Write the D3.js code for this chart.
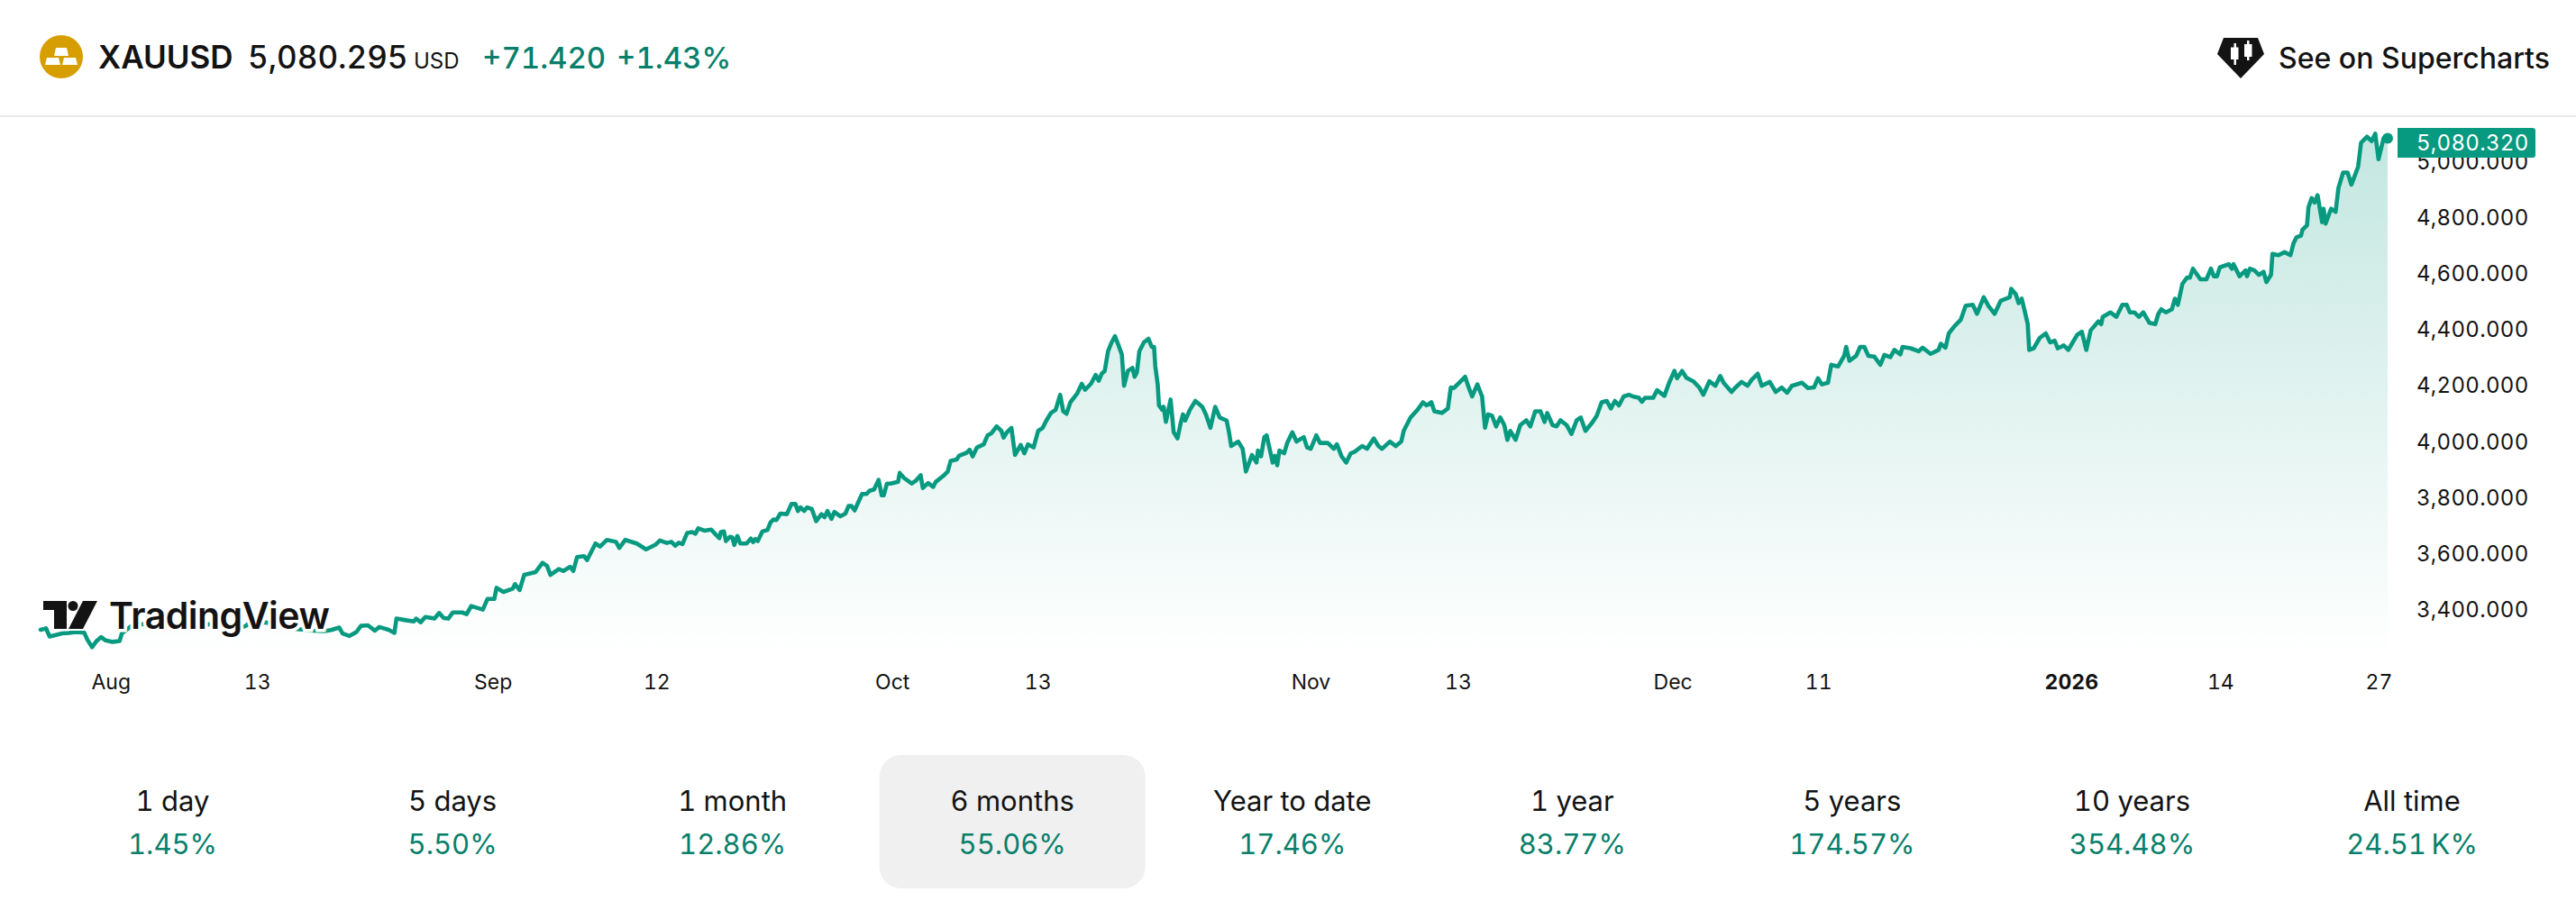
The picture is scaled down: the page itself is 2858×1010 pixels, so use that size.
<!DOCTYPE html>
<html>
<head>
<meta charset="utf-8">
<title>XAUUSD</title>
<script src="https://cdn.jsdelivr.net/npm/d3@7"></script>
<style>
  html, body { margin: 0; padding: 0; background: #fff; }
  svg { display: block; }
  text { font-family: Inter, "Noto Sans", sans-serif; font-variant-numeric: tabular-nums; }
</style>
</head>
<body>
<svg id="plot" width="2858" height="1010"></svg>
<script>
// turning points of the price line,
// position counted in trading sessions from the first point
var sessions = [
  0,.3,.5,.8,1.18,1.56,1.94,2.4,2.57,2.83,3.08,3.33,3.58,3.96,4.34,4.47,
  5,6,7,8,9,10,11,11.29,11.54,12,12.3,13,14,14.5,15,15.59,15.97,16.42,16.6,16.98,
  17.36,17.61,17.99,18.37,18.62,19.13,19.45,19.56,20.01,20.52,20.64,20.89,21.15,21.65,21.91,22.16,
  22.41,22.66,23.17,23.42,23.67,24.31,24.56,24.94,25.06,25.44,25.95,26.08,26.33,26.58,27.21,27.59,
  27.84,28.02,28.48,28.73,29.11,29.28,29.49,29.87,30.04,30.5,30.75,31.13,31.63,31.81,32.14,32.77,
  33.28,33.78,34.04,34.42,34.67,34.88,35.08,35.28,35.54,35.82,35.99,36.15,36.48,36.86,37.14,37.31,
  37.39,37.56,37.67,37.89,38.02,38.13,38.3,38.46,38.8,39.04,39.17,39.29,39.42,39.67,39.95,40.12,
  40.28,40.45,40.66,41.02,41.27,41.49,41.63,41.77,41.97,42.13,42.39,42.63,42.92,43.09,43.25,43.47,
  43.63,43.96,44.24,44.41,44.57,44.74,45.15,45.4,45.56,45.81,46.06,46.23,46.34,46.52,46.72,47.13,
  47.22,47.46,47.88,48.12,48.37,48.49,48.78,49.06,49.2,49.61,49.86,50.02,50.35,50.48,50.9,51.06,
  51.23,51.47,51.84,52.05,52.25,52.55,52.81,52.93,53.11,53.36,53.56,53.87,54.07,54.27,54.58,54.83,
  55.08,55.28,55.53,55.79,56.04,56.21,56.39,56.6,56.98,57.23,57.41,57.73,57.99,58.16,58.32,58.49,
  58.67,58.87,59.05,59.25,59.43,59.55,59.76,60.01,60.13,60.26,60.39,60.64,60.89,61.07,61.2,61.27,
  61.4,61.47,61.65,61.73,61.85,62.11,62.28,62.49,62.66,62.79,62.91,63.17,63.47,63.85,64.05,64.3,
  64.56,64.81,65.19,65.32,65.44,65.82,66.07,66.25,66.58,66.83,66.91,67.08,67.26,67.39,67.72,67.84,
  67.97,68.09,68.35,68.52,68.8,69.03,69.43,69.61,69.81,70.12,70.32,70.75,71.08,71.25,71.51,71.76,
  72.01,72.21,72.64,72.9,73.28,73.53,73.73,74.16,74.49,74.79,74.92,75.3,75.68,75.98,76.18,76.44,
  76.61,77.02,77.35,77.51,77.68,77.97,78.3,78.46,78.68,78.97,79.23,79.39,79.56,79.78,80,80.23,
  80.45,80.62,80.78,81.07,81.33,81.66,81.88,82.15,82.44,82.66,82.81,83.1,83.32,83.54,83.87,84.14,
  84.43,84.65,84.91,85.31,85.53,85.8,86.08,86.31,86.53,86.75,87.01,87.3,87.52,87.85,88.01,88.19,
  88.63,88.85,89.25,89.51,89.8,89.95,90.22,90.46,90.84,91.17,91.39,91.72,92.05,92.32,92.5,92.94,
  93.16,93.49,93.82,94.04,94.38,94.6,95.04,95.37,95.7,95.99,96.26,96.81,97.14,97.47,97.69,97.91,
  98.24,98.42,98.8,99.13,99.24,99.42,99.79,100.01,100.24,100.46,100.79,101.12,101.34,101.67,101.89,102.22,
  102.34,102.78,103.22,103.44,103.88,104.32,104.44,104.7,104.88,105.21,105.54,105.81,106.2,106.43,106.8,107.07,
  107.4,107.73,108.23,108.31,108.56,108.72,108.89,109.05,109.22,109.3,109.55,109.88,110.21,110.45,110.7,110.87,
  111.2,111.45,111.69,111.94,112.19,112.44,112.68,113.1,113.26,113.34,113.76,114.09,114.42,114.66,114.83,115.08,
  115.33,115.57,115.9,116.23,116.4,116.56,116.81,117.14,117.31,117.47,117.72,117.97,118.13,118.3,118.71,119.04,
  119.29,119.45,119.62,119.78,120.28,120.44,120.53,120.86,121.19,121.27,121.43,121.68,121.93,122.18,122.34,122.59,
  122.67,123,123.33,123.66,123.83,123.99,124.24,124.32,124.57,124.65,124.82,124.98,125.15,125.4,125.48,125.59,
  125.89,126.14,126.3,126.55,126.8,127.01,127.38,127.54,127.87,128.12,128.32,128.5,128.78,129
];

var prices = [
  3326,3331,3302,3307,3313,3315,3318,3316,3291,3264,3286,3300,3288,3283,3286,3313,
  3340,3350,3340,3350,3345,3347,3334,3340,3356,3340,3353,3345,3329,3326,3323,3321,3325,3334,3313,3304,
  3318,3340,3342,3323,3336,3326,3315,3366,3361,3356,3366,3353,3372,3366,3386,3368,
  3366,3388,3388,3382,3411,3398,3436,3436,3476,3461,3473,3489,3468,3522,3532,3565,
  3554,3522,3543,3536,3551,3536,3586,3589,3575,3634,3623,3647,3640,3618,3647,3634,
  3613,3629,3645,3636,3640,3626,3637,3632,3672,3675,3669,3688,3680,3684,3664,3653,
  3675,3677,3643,3658,3656,3629,3661,3634,3634,3652,3639,3650,3643,3677,3682,3709,
  3720,3718,3741,3739,3775,3775,3750,3763,3750,3763,3757,3714,3739,3728,3750,3722,
  3747,3731,3741,3768,3768,3752,3811,3811,3822,3827,3861,3806,3806,3848,3848,3854,
  3886,3868,3848,3859,3878,3832,3850,3836,3854,3875,3891,3929,3934,3947,3958,3969,
  3945,3977,3988,4020,4027,4052,4036,4012,4031,4047,3950,3986,3956,3988,3977,4036,
  4047,4073,4100,4111,4165,4106,4097,4138,4170,4204,4183,4204,4236,4215,4240,4250,
  4320,4352,4374,4341,4309,4197,4250,4261,4229,4245,4320,4352,4365,4336,4336,4266,
  4202,4127,4111,4122,4068,4148,4031,4009,4063,4095,4073,4111,4143,4122,4095,4047,
  4122,4084,4073,4031,3982,3998,3972,3891,3950,3923,3966,3945,4014,4020,3923,3947,
  3913,3966,3956,3993,4031,3998,4014,3977,3972,4020,3993,3993,3972,3988,3945,3923,
  3956,3961,3982,3972,4009,3982,3972,3998,3982,3998,4036,4084,4111,4138,4127,4138,
  4106,4100,4116,4191,4189,4208,4229,4197,4159,4202,4159,4047,4095,4090,4052,4084,
  4057,4004,4036,4004,4057,4074,4052,4106,4106,4068,4100,4057,4052,4074,4057,4025,
  4074,4084,4036,4068,4090,4138,4143,4116,4143,4127,4159,4165,4159,4154,4140,4154,
  4154,4181,4161,4208,4250,4224,4250,4226,4213,4191,4165,4213,4197,4232,4208,4175,
  4191,4211,4197,4218,4240,4197,4211,4175,4191,4172,4197,4208,4189,4191,4224,4202,
  4208,4272,4266,4304,4336,4286,4304,4336,4336,4304,4301,4272,4307,4299,4325,4309,
  4336,4331,4320,4333,4311,4325,4347,4333,4384,4411,4433,4483,4486,4454,4513,4481,
  4454,4500,4513,4543,4524,4492,4508,4465,4417,4325,4331,4368,4384,4352,4358,4331,
  4341,4325,4352,4379,4390,4325,4395,4427,4417,4443,4459,4443,4486,4486,4459,4459,
  4443,4459,4422,4417,4454,4470,4459,4470,4508,4486,4561,4583,4583,4615,4577,4577,
  4615,4588,4588,4620,4631,4615,4631,4588,4609,4588,4615,4609,4593,4604,4567,4593,
  4668,4663,4674,4663,4706,4727,4733,4754,4770,4834,4867,4851,4877,4781,4829,4776,
  4829,4818,4904,4958,4958,4915,4979,5065,5086,5070,5097,5006,5081,5080.32
];

var priceTicks = [3400, 3600, 3800, 4000, 4200, 4400, 4600, 4800, 5000];

var timeTickSessions = [3.85, 11.9, 24.85, 33.85, 46.8, 54.8, 69.8, 77.9, 89.7, 97.7, 111.6, 119.8, 128.5];
var timeTickLabels = ["Aug", "13", "Sep", "12", "Oct", "13", "Nov", "13", "Dec", "11", "2026", "14", "27"];

var periodLabels = ["1 day", "5 days", "1 month", "6 months", "Year to date", "1 year", "5 years", "10 years", "All time"];
var periodChanges = ["1.45%", "5.50%", "12.86%", "55.06%", "17.46%", "83.77%", "174.57%", "354.48%", "24.51\u202FK%"];
var selectedPeriod = "6 months";

var symbolName = "XAUUSD";
var quote = "5,080.295";
var quoteCurrency = "USD";
var dayChange = "+71.420";
var dayChangePct = "+1.43%";
var lastPrice = prices[prices.length - 1];
var lastSession = sessions[sessions.length - 1];

var lineColor = "#089a80";
var upText = "#077f6a";
var ink = "#131313";

var svg = d3.select("#plot");

var x = d3.scaleLinear().domain([0, lastSession]).range([45, 2649]);
var y = d3.scaleLinear().domain([3400, 5000]).range([676, 178.5]);

function DrawArea() {
	var defs = svg.append("defs");
	var grad = defs.append("linearGradient")
		.attr("id", "areaFill")
		.attr("gradientUnits", "userSpaceOnUse")
		.attr("x1", 0).attr("x2", 0)
		.attr("y1", 130).attr("y2", 730);
	grad.append("stop").attr("offset", 0).attr("stop-color", lineColor).attr("stop-opacity", 0.25);
	grad.append("stop").attr("offset", 1).attr("stop-color", lineColor).attr("stop-opacity", 0);

	var area = d3.area()
		.x(function(d, i){ return x(sessions[i]) })
		.y0(730)
		.y1(function(d){ return y(d) });
	svg.append("path").datum(prices).attr("d", area).attr("fill", "url(#areaFill)");

	var line = d3.line()
		.x(function(d, i){ return x(sessions[i]) })
		.y(function(d){ return y(d) });
	svg.append("path").datum(prices).attr("d", line)
		.attr("fill", "none")
		.attr("stroke", lineColor)
		.attr("stroke-width", 4.6)
		.attr("stroke-linejoin", "round")
		.attr("stroke-linecap", "round");

	svg.append("circle")
		.attr("cx", x(lastSession))
		.attr("cy", y(lastPrice))
		.attr("r", 6)
		.attr("fill", lineColor);
}

function DrawAxes() {
	var yAxis = d3.axisRight(y)
		.tickValues(priceTicks)
		.tickSize(0)
		.tickPadding(0)
		.tickFormat(d3.format(",.3f"));
	var gy = svg.append("g").attr("transform", "translate(2681,1)").call(yAxis);
	gy.select(".domain").remove();
	gy.selectAll("text")
		.attr("font-family", "Inter")
		.attr("font-size", 24)
		.attr("letter-spacing", 0.3)
		.attr("fill", ink);

	var xAxis = d3.axisBottom(x)
		.tickValues(timeTickSessions)
		.tickSize(0)
		.tickPadding(0)
		.tickFormat(function(d, i){ return timeTickLabels[i] });
	var gx = svg.append("g").attr("transform", "translate(0,749)").call(xAxis);
	gx.select(".domain").remove();
	gx.selectAll("text")
		.attr("font-family", "Inter")
		.attr("font-size", 23)
		.attr("fill", ink)
		.attr("font-weight", function(d, i){ return timeTickLabels[i] == "2026" ? 700 : 400 });

	// last price tag sits on top of the 5,000 label
	var tag = svg.append("g").attr("transform", "translate(0," + y(lastPrice) + ")");
	tag.append("path")
		.attr("d", "M2660,-11.5 H2810 a3,3 0 0 1 3,3 V18.5 a3,3 0 0 1 -3,3 H2660 Z")
		.attr("fill", lineColor);
	tag.append("text")
		.attr("x", 2681).attr("y", 13)
		.attr("font-size", 24)
		.attr("letter-spacing", 0.3)
		.attr("fill", "#fff")
		.text(d3.format(",.3f")(lastPrice));
}

function DrawLogo() {
	var logo = svg.append("g");
	logo.append("text")
		.attr("x", 121).attr("y", 698)
		.attr("font-size", 41)
		.attr("font-weight", 600)
		.attr("letter-spacing", -0.5)
		.attr("fill", ink)
		.attr("stroke", "#fff")
		.attr("stroke-width", 7)
		.attr("paint-order", "stroke")
		.text("TradingView");
	logo.append("path")
		.attr("d", "M48,667 H74 V698 H60 V677 H48 Z M92,667 H108 L92,698 H76 Z")
		.attr("fill", ink)
		.attr("stroke", "#fff")
		.attr("stroke-width", 4)
		.attr("paint-order", "stroke");
	logo.append("circle").attr("cx", 81).attr("cy", 672.5).attr("r", 5.5).attr("fill", ink);
}

function DrawHeader() {
	svg.append("line")
		.attr("x1", 0).attr("x2", 2858)
		.attr("y1", 129).attr("y2", 129)
		.attr("stroke", "#e9e9e9")
		.attr("stroke-width", 2);

	var icon = svg.append("g");
	icon.append("circle").attr("cx", 68).attr("cy", 63).attr("r", 24).attr("fill", "#d69e00");
	icon.append("path")
		.attr("d", "M62,53 H74 L76,62 H60 Z M52,64 H65 L67,72 H50 Z M71,64 H84 L86,72 H69 Z")
		.attr("fill", "#fff");

	var header = [
		{t: symbolName, px: 109, size: 35, w: 600, c: ink},
		{t: quote, px: 275, size: 35, w: 500, c: ink},
		{t: quoteCurrency, px: 459, size: 24, w: 400, c: ink},
		{t: dayChange, px: 535, size: 33, w: 500, c: upText},
		{t: dayChangePct, px: 684, size: 33, w: 500, c: upText}
	];
	svg.selectAll("text.head").data(header).enter().append("text")
		.attr("class", "head")
		.attr("x", function(d){ return d.px })
		.attr("y", 76)
		.attr("font-size", function(d){ return d.size })
		.attr("font-weight", function(d){ return d.w })
		.attr("fill", function(d){ return d.c })
		.text(function(d){ return d.t });

	var cta = svg.append("g");
	cta.append("path")
		.attr("d", "M2467,42 H2505 L2512,60 L2486,87 L2460,60 Z")
		.attr("fill", ink);
	cta.append("path")
		.attr("d", "M2478.5,48 H2481 V52.5 H2483.5 V66 H2481 V72 H2478.5 V66 H2475 V52.5 H2478.5 Z M2493,45 H2495.5 V49 H2498.5 V63 H2495.5 V67 H2493 V63 H2490 V49 H2493 Z")
		.attr("fill", "#fff");
	cta.append("text")
		.attr("x", 2528).attr("y", 76)
		.attr("font-size", 32)
		.attr("font-weight", 500)
		.attr("fill", ink)
		.text("See on Supercharts");
}

function DrawPeriods() {
	var px = d3.scalePoint().domain(periodLabels).range([191.5, 2676]);

	svg.append("rect")
		.attr("x", px(selectedPeriod) - 147.5).attr("y", 838)
		.attr("width", 295).attr("height", 148)
		.attr("rx", 24)
		.attr("fill", "#f0f0f0");

	var tabs = svg.selectAll("g.tab").data(periodLabels).enter().append("g")
		.attr("class", "tab")
		.attr("transform", function(d){ return "translate(" + px(d) + ",0)" });
	tabs.append("text")
		.attr("y", 900)
		.attr("text-anchor", "middle")
		.attr("font-size", 31)
		.attr("fill", ink)
		.text(function(d){ return d });
	tabs.append("text")
		.attr("y", 948)
		.attr("text-anchor", "middle")
		.attr("font-size", 31)
		.attr("fill", upText)
		.text(function(d, i){ return periodChanges[i] });
}

DrawArea();
DrawAxes();
DrawLogo();
DrawHeader();
DrawPeriods();
</script>
</body>
</html>
